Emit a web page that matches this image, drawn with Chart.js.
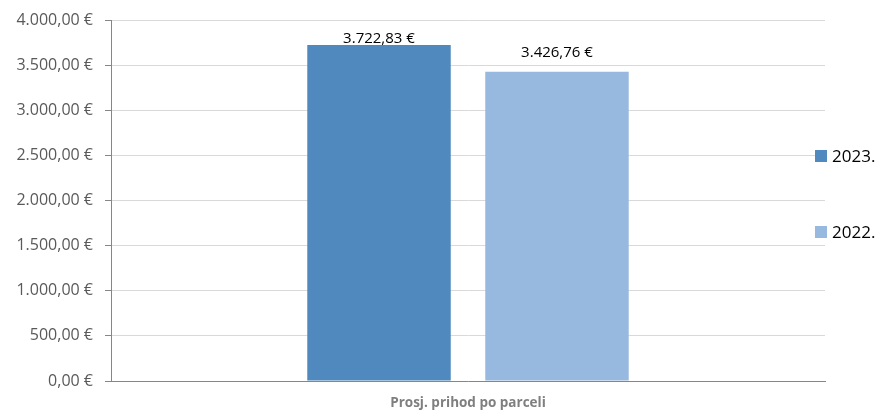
<!DOCTYPE html>
<html>
<head>
<meta charset="utf-8">
<script src="https://cdn.jsdelivr.net/npm/chart.js@4/dist/chart.umd.min.js"></script>
<style>
html,body{margin:0;padding:0;background:#fff;}
#wrap{position:relative;width:881px;height:412px;}
</style>
</head>
<body>
<div id="wrap"><canvas id="c" width="881" height="412"></canvas></div>
<script>
const categories = ["Prosj. prihod po parceli"];
const seriesNames = ["2023.", "2022."];
const values2023 = [3722.83];
const values2022 = [3426.76];
const yTicks = [0, 500, 1000, 1500, 2000, 2500, 3000, 3500, 4000];
const colors = ["#4F89BD", "#98B9DF"];

function fmtEUR(v){
  const parts = v.toFixed(2).split(".");
  const intPart = parts[0].replace(/\B(?=(\d{3})+(?!\d))/g, ".");
  return intPart + "," + parts[1] + " €";
}

const labelPlugin = {
  id: "barLabels",
  afterDatasetsDraw(chart){
    const ctx = chart.ctx;
    ctx.save();
    ctx.font = "15px 'Open Sans'";
    ctx.fillStyle = "#000";
    ctx.textAlign = "center";
    ctx.textBaseline = "middle";
    chart.data.datasets.forEach((ds, i) => {
      const meta = chart.getDatasetMeta(i);
      meta.data.forEach((bar, j) => {
        let y = bar.y - 19;
        const minY = chart.chartArea.top + 18.5;
        if (y < minY) y = minY;
        ctx.fillText(fmtEUR(ds.data[j]), bar.x, y);
      });
    });
    ctx.restore();
  }
};

const legendPlugin = {
  id: "sideLegend",
  afterDraw(chart){
    const ctx = chart.ctx;
    ctx.save();
    const x0 = chart.chartArea.right - 10;
    const ys = [156, 232];
    chart.data.datasets.forEach((ds, i) => {
      ctx.fillStyle = ds.backgroundColor;
      ctx.fillRect(x0, ys[i] - 6, 12, 12);
      ctx.fillStyle = "#000";
      ctx.font = "17px 'Open Sans'";
      ctx.textAlign = "left";
      ctx.textBaseline = "middle";
      ctx.fillText(ds.label, x0 + 17, ys[i] + 1);
    });
    ctx.restore();
  }
};

new Chart(document.getElementById("c"), {
  type: "bar",
  data: {
    labels: categories,
    datasets: [
      { label: seriesNames[0], data: values2023, backgroundColor: colors[0] },
      { label: seriesNames[1], data: values2022, backgroundColor: colors[1] }
    ]
  },
  options: {
    responsive: false,
    animation: false,
    devicePixelRatio: 1,
    layout: { padding: { left: 0, right: 56, top: 9, bottom: 0 } },
    datasets: { bar: { categoryPercentage: 0.4986, barPercentage: 0.806 } },
    plugins: { legend: { display: false }, tooltip: { enabled: false } },
    scales: {
      x: {
        afterFit(scale){ scale.height = 31; },
        grid: { display: false, drawTicks: false },
        border: { display: true, color: "#868686", width: 1 },
        ticks: { color: "#7F7F7F", font: { family: "Open Sans", size: 13.5, weight: "bold" }, padding: 14 }
      },
      y: {
        min: 0, max: 4000,
        afterFit(scale){ scale.width = 111; },
        afterBuildTicks(scale){ scale.ticks = yTicks.map(v => ({ value: v })); },
        grid: { color: "#D9D9D9", tickLength: 6, tickColor: "#868686", lineWidth: 1 },
        border: { display: true, color: "#868686", width: 1 },
        ticks: { color: "#595959", font: { family: "Open Sans", size: 16, lineHeight: 1 }, padding: 12,
                 callback: v => fmtEUR(v) }
      }
    }
  },
  plugins: [labelPlugin, legendPlugin]
});
</script>
</body>
</html>
